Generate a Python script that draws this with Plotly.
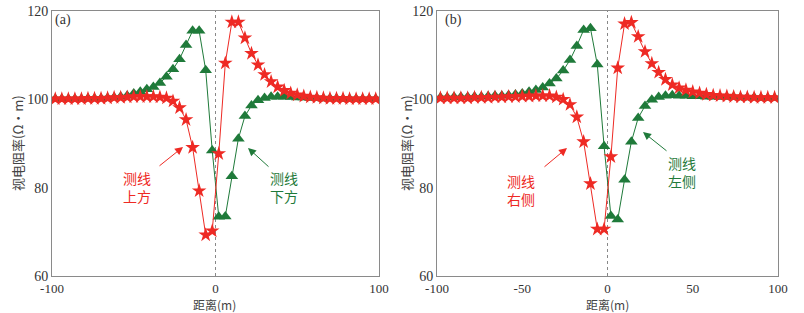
import plotly.graph_objects as go

x = [-98 + 4 * i for i in range(50)]

# Panel (a)
a_red = [100.1, 100.1, 100.1, 100.1, 100.1, 100.2, 100.2, 100.2, 100.3, 100.4,
         100.4, 100.5, 100.6, 100.6, 100.6, 100.6, 100.5, 100.3, 99.6, 98.1,
         95.4, 89.1, 79.3, 69.3, 70.2, 87.7, 108.2, 117.5, 117.5, 113.9,
         110.4, 107.8, 105.6, 104.0, 102.8, 102.0, 101.4, 101.0, 100.7, 100.5,
         100.4, 100.3, 100.2, 100.2, 100.2, 100.1, 100.1, 100.1, 100.1, 100.1]
a_green = [100.1, 100.1, 100.1, 100.1, 100.1, 100.2, 100.2, 100.2, 100.3, 100.4,
           100.6, 100.8, 101.3, 101.7, 102.3, 102.8, 103.7, 105.1, 106.8, 109.1,
           112.3, 115.5, 115.5, 106.6, 88.4, 73.4, 73.5, 82.6, 91.1, 96.2,
           98.6, 99.8, 100.3, 100.6, 100.6, 100.6, 100.5, 100.4, 100.4, 100.3,
           100.3, 100.2, 100.2, 100.2, 100.1, 100.1, 100.1, 100.1, 100.1, 100.1]

# Panel (b)
b_red = [100.3, 100.3, 100.3, 100.3, 100.3, 100.4, 100.4, 100.4, 100.5, 100.5,
         100.6, 100.6, 100.7, 100.7, 100.8, 100.8, 100.8, 100.5, 100.0, 98.8,
         96.0, 90.4, 80.9, 70.6, 70.6, 87.0, 107.1, 117.1, 117.4, 114.2,
         110.8, 108.1, 106.1, 104.5, 103.3, 102.6, 102.1, 101.7, 101.4, 101.1,
         100.9, 100.8, 100.7, 100.6, 100.5, 100.5, 100.4, 100.4, 100.4, 100.4]
b_green = [100.4, 100.4, 100.5, 100.5, 100.5, 100.6, 100.6, 100.7, 100.8, 100.8,
           100.9, 101.1, 101.3, 101.7, 102.1, 102.7, 103.6, 104.7, 106.5, 108.9,
           112.1, 115.7, 116.1, 107.9, 89.4, 73.6, 72.8, 81.8, 90.4, 95.8,
           98.5, 99.9, 100.5, 100.8, 100.9, 100.8, 100.8, 100.7, 100.7, 100.6,
           100.6, 100.5, 100.5, 100.5, 100.4, 100.4, 100.4, 100.3, 100.3, 100.3]

xticks_a = [-100, 0, 100]
xticks_b = [-100, -50, 0, 50, 100]
yticks = [60, 80, 100, 120]

RED = "#ee2a24"
GREEN = "#1f7a3a"
SERIF = "Liberation Serif"
CJK = "Noto Sans CJK SC"

fig = go.Figure()

def add_panel(xa, ya, red, green):
    fig.add_trace(go.Scatter(x=x, y=green, mode="lines+markers", xaxis=xa, yaxis=ya,
                             line=dict(color=GREEN, width=1),
                             marker=dict(symbol="triangle-up", size=11, color=GREEN),
                             showlegend=False))
    fig.add_trace(go.Scatter(x=x, y=red, mode="lines+markers", xaxis=xa, yaxis=ya,
                             line=dict(color=RED, width=1),
                             marker=dict(symbol="star", size=11, color=RED),
                             showlegend=False))

add_panel("x", "y", a_red, a_green)
add_panel("x2", "y2", b_red, b_green)

axis_common = dict(showline=True, linecolor="#8a8a8a", linewidth=1, mirror=True,
                   showgrid=False, zeroline=False, ticks="", automargin=False)
xfont = dict(family=SERIF, size=13, color="#333")
yfont = dict(family=SERIF, size=14, color="#333")

def lbl(v):
    return [str(t) for t in v]

ydom = [1 - 276 / 313, 1 - 11 / 313]
fig.update_layout(
    width=804, height=313, margin=dict(l=0, r=0, t=0, b=0),
    plot_bgcolor="white", paper_bgcolor="white",
    xaxis=dict(domain=[52 / 804, 379 / 804], range=[-100, 100], tickvals=xticks_a,
               ticktext=lbl(xticks_a), anchor="y", tickfont=xfont, **axis_common),
    yaxis=dict(domain=ydom, range=[60, 120], tickvals=yticks, ticktext=lbl(yticks),
               anchor="x", tickfont=yfont, **axis_common),
    xaxis2=dict(domain=[437 / 804, 778 / 804], range=[-100, 100], tickvals=xticks_b,
                ticktext=lbl(xticks_b), anchor="y2", tickfont=xfont, **axis_common),
    yaxis2=dict(domain=ydom, range=[60, 120], tickvals=yticks, ticktext=lbl(yticks),
                anchor="x2", tickfont=yfont, **axis_common),
)

for xa, ya in (("x", "y"), ("x2", "y2")):
    fig.add_shape(type="line", xref=xa, yref=ya, x0=0, x1=0, y0=60, y1=120,
                  line=dict(color="#888", width=1, dash="dot"), layer="below")

def txt(xp, yp, s, color="#444", size=13, family=CJK, angle=0):
    fig.add_annotation(x=xp / 804, y=1 - yp / 313, xref="paper", yref="paper", text=s,
                       showarrow=False, font=dict(family=family, size=size, color=color),
                       textangle=angle, xanchor="center", yanchor="middle")

# axis titles
txt(17, 143, "视电阻率(Ω·m)", angle=-90, size=13)
txt(406, 143, "视电阻率(Ω·m)", angle=-90, size=13)
txt(215, 304, "距离(m)", size=12)
txt(607, 304, "距离(m)", size=12)
# panel labels
txt(63, 20, "(a)", family=SERIF, size=14, color="#333")
txt(453, 20, "(b)", family=SERIF, size=14, color="#333")
# annotations text
txt(137, 187, "测线<br>上方", color=RED, size=14)
txt(284, 187, "测线<br>下方", color=GREEN, size=14)
txt(521, 190, "测线<br>右侧", color=RED, size=14)
txt(682, 172, "测线<br>左侧", color=GREEN, size=14)

def arrow(x0, y0, x1, y1, color):
    fig.add_annotation(x=x1 / 804, y=1 - y1 / 313, ax=x0 - x1, ay=y0 - y1,
                       xref="paper", yref="paper", axref="pixel", ayref="pixel",
                       showarrow=True, arrowhead=2, arrowsize=1.6, arrowwidth=1,
                       arrowcolor=color, text="")

arrow(158, 167, 183, 147, RED)
arrow(270, 168, 248, 148, GREEN)
arrow(543, 168, 567, 148, RED)
arrow(668, 152, 643, 132, GREEN)

fig.write_html("out.html", config={"displayModeBar": False},
               post_script="document.body.style.margin='0';document.body.style.overflow='hidden';")
